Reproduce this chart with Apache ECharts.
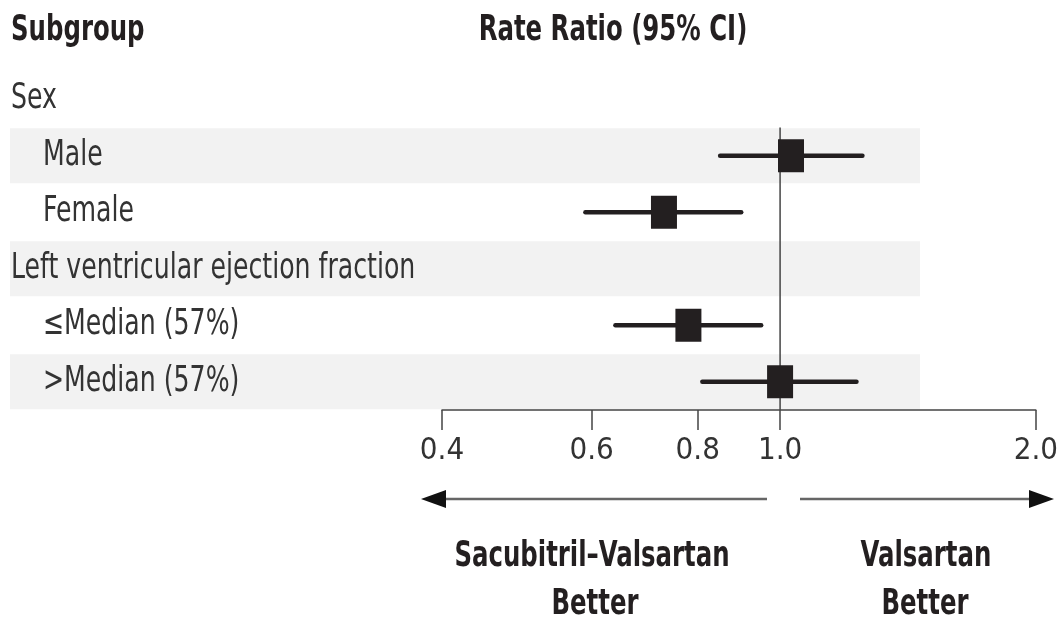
<!DOCTYPE html>
<html><head><meta charset="utf-8">
<script src="https://cdn.jsdelivr.net/npm/echarts@6/dist/echarts.min.js"></script>
<style>html,body{margin:0;padding:0;background:#fff}#c{width:1061px;height:622px}</style>
</head><body><div id="c"></div>
<script>
const rowLabels = ['Sex','Male','Female','Left ventricular ejection fraction','\u2264Median (57%)','>Median (57%)'];
const rowIsGroup = [true,false,false,true,false,false];
const shadedRows = [1,3,5];
const estimates = [null,1.03,0.73,null,0.78,1.00];
const lowerCI  = [null,0.85,0.59,null,0.64,0.81];
const upperCI  = [null,1.25,0.90,null,0.95,1.23];
const xTicks = [0.4,0.6,0.8,1.0,2.0];
const refValue = 1.0;
const FONT = "'Liberation Sans Narrow','DejaVu Sans Condensed',sans-serif";
const INK = '#231f20';
const SQX = 0.8;    // horizontal squeeze of regular text (condensed look)
const SQXB = 0.775; // horizontal squeeze of bold text

const pointData = [];
rowLabels.forEach((r,i)=>{ if(estimates[i]!=null) pointData.push([estimates[i], lowerCI[i], upperCI[i], i]); });
const labelData = rowLabels.map((r,i)=>[0, i]);
const nRows = rowLabels.length;

const chart = echarts.init(document.getElementById('c'), null, {renderer:'canvas'});
function boldText(x, y, text){
  return {type:'text', x:x, y:y, scaleX:SQXB, style:{text:text, font:"bold 35px "+FONT, fill:INK, align:'center', verticalAlign:'middle'}};
}
const option = {
  backgroundColor:'#fff',
  animation:false,
  grid:[
    {left:442, width:596, top:71, height:339},
    {left:10, width:910, top:71, height:339}
  ],
  xAxis:[
    {type:'log', gridIndex:0, min:0.4, max:2.0, logBase:10,
     axisLine:{show:true, onZero:false, lineStyle:{color:'#444', width:1.5}},
     axisTick:{show:true, customValues:xTicks, length:20, lineStyle:{color:'#444', width:1.5}},
     axisLabel:{customValues:xTicks, formatter:v=>Number(v).toFixed(1), fontSize:31, fontFamily:FONT, color:'#333', margin:25},
     splitLine:{show:false}, minorTick:{show:false}},
    {type:'value', gridIndex:1, min:0, max:1, show:false}
  ],
  yAxis:[
    {type:'value', gridIndex:0, min:-0.5, max:nRows-0.5, inverse:true, show:false},
    {type:'value', gridIndex:1, min:-0.5, max:nRows-0.5, inverse:true, show:false}
  ],
  series:[
    {type:'custom', xAxisIndex:1, yAxisIndex:1, z:0, silent:true,
     data:shadedRows.map(r=>[0,r]),
     renderItem:(params, api)=>{
       const r = api.value(1);
       const p0 = api.coord([0, r-0.487]);
       const p1 = api.coord([1, r+0.487]);
       return {type:'rect', shape:{x:p0[0], y:p0[1], width:p1[0]-p0[0], height:p1[1]-p0[1]}, style:{fill:'#f2f2f2'}};
     }},
    {type:'custom', xAxisIndex:1, yAxisIndex:1, z:2, silent:true,
     data:labelData,
     renderItem:(params, api)=>{
       const i = api.value(1);
       const p = api.coord([0, i]);
       const indent = rowIsGroup[i] ? 1 : 33;
       return {type:'text', x:p[0]+indent, y:p[1], scaleX:SQX,
               style:{text:rowLabels[i], font:"35px "+FONT, fill:'#333', align:'left', verticalAlign:'middle'}};
     }},
    {type:'line', xAxisIndex:0, yAxisIndex:0, z:3, silent:true, symbol:'none',
     data:[[refValue,0.5],[refValue,nRows-0.5]],
     lineStyle:{color:'#444', width:1.5}},
    {type:'custom', xAxisIndex:0, yAxisIndex:0, z:5,
     encode:{x:[0,1,2], y:3},
     data:pointData,
     renderItem:(params, api)=>{
       const y = api.value(3);
       const lo = api.coord([api.value(1), y]);
       const hi = api.coord([api.value(2), y]);
       const c = api.coord([api.value(0), y]);
       return {type:'group', children:[
         {type:'line', shape:{x1:lo[0], y1:lo[1], x2:hi[0], y2:hi[1]}, style:{stroke:INK, lineWidth:4.5, lineCap:'round'}},
         {type:'rect', shape:{x:c[0]-13, y:c[1]-16.5, width:26, height:33}, style:{fill:INK}}
       ]};
     }}
  ],
  graphic:[
    {type:'text', x:11, y:31, scaleX:SQXB, style:{text:'Subgroup', font:"bold 35px "+FONT, fill:INK, align:'left', verticalAlign:'middle'}},
    boldText(613, 31, 'Rate Ratio (95% CI)'),
    {type:'line', shape:{x1:767, y1:499, x2:440, y2:499}, style:{stroke:'#666', lineWidth:2.5}},
    {type:'polygon', shape:{points:[[421,499],[446,490],[446,508]]}, style:{fill:'#111'}},
    {type:'line', shape:{x1:800, y1:499, x2:1034, y2:499}, style:{stroke:'#666', lineWidth:2.5}},
    {type:'polygon', shape:{points:[[1054,499],[1029,490],[1029,508]]}, style:{fill:'#111'}},
    boldText(592, 557, 'Sacubitril\u2013Valsartan'),
    boldText(595, 605, 'Better'),
    boldText(926, 557, 'Valsartan'),
    boldText(925, 605, 'Better')
  ]
};
chart.setOption(option);
</script>
</body></html>
